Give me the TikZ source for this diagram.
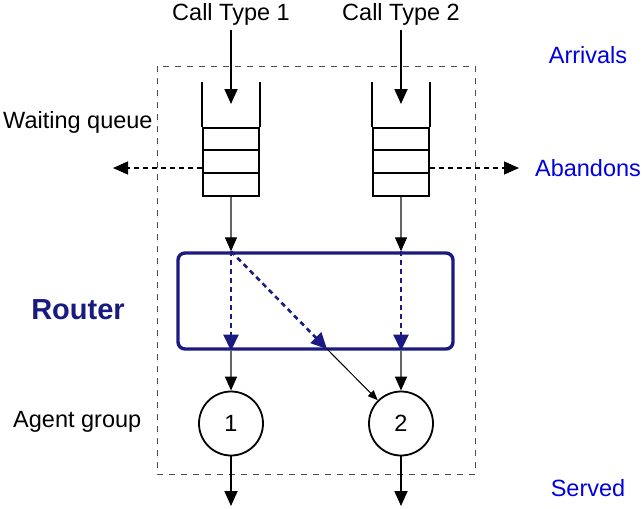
\documentclass[tikz,border=0pt]{standalone}
\usepackage{fontspec}
\setmainfont{Liberation Sans}
\usetikzlibrary{arrows.meta}
\definecolor{routernavy}{RGB}{26,26,128}
\definecolor{labelblue}{RGB}{0,0,225}
\begin{document}
\begin{tikzpicture}[x=1pt,y=-1pt,
  txt/.style={font=\fontsize{23.5}{27}\selectfont, inner sep=0pt},
  bluetxt/.style={txt, text=labelblue},
  bigtip/.style={-{Triangle[length=15pt,width=13pt]}},
  smalltip/.style={-{Triangle[length=10pt,width=8pt]}},
  midtip/.style={-{Triangle[length=14pt,width=12pt,color=black]}},
  navytip/.style={-{Triangle[length=16pt,width=15pt,color=routernavy]}},
  queuebox/.style={draw=black, line width=1.8pt, minimum width=56pt, minimum height=68pt, inner sep=0pt},
  agent/.style={circle, draw=black, line width=1.8pt, minimum size=64pt, inner sep=0pt, font=\fontsize{23.5}{27}\selectfont},
  thinline/.style={draw=black!60, line width=1.3pt},
  navydash/.style={draw=routernavy, line width=2.6pt, dash pattern=on 5pt off 4pt},
  abandon/.style={draw=black, line width=1.4pt, dash pattern=on 5pt off 4pt}
]
\useasboundingbox (0,0) rectangle (643,509);

% system boundary
\draw[black!70, line width=0.9pt, dash pattern=on 6pt off 6pt] (157,66) rectangle (475,474);

% queues
\node[queuebox] (q1) at (231,162) {};
\node[queuebox] (q2) at (401,162) {};
\foreach \q in {q1,q2}{
  \draw[line width=1.8pt] (\q.north west) -- ++(0,-45);
  \draw[line width=1.8pt] (\q.north east) -- ++(0,-45);
  \draw[line width=1.8pt] ([yshift=-23pt]\q.north west) -- ([yshift=-23pt]\q.north east);
  \draw[line width=1.8pt] ([yshift=-46pt]\q.north west) -- ([yshift=-46pt]\q.north east);
}

% router
\node[draw=routernavy, line width=3.4pt, rounded corners=7pt, minimum width=275pt, minimum height=96pt] (router) at (315.5,301) {};

% agent groups
\node[agent] (g1) at (231,423.5) {1};
\node[agent] (g2) at (401,423.5) {2};

% texts
\node[txt] (t1) at (231,14) {Call Type 1};
\node[txt] (t2) at (401,14) {Call Type 2};
\node[txt, anchor=west] (wq) at (3,122) {Waiting queue};
\node[txt, anchor=west] (ag) at (13,422) {Agent group};
\node[txt, font=\fontsize{29}{33}\selectfont\bfseries, text=routernavy] (rt) at (78,310) {Router};
\node[bluetxt] (arr) at (588,55) {Arrivals};
\node[bluetxt] (ab) at (588,168) {Abandons};
\node[bluetxt] (sv) at (588,488) {Served};

% free ends
\coordinate (a1) at (231,30);
\coordinate (a2) at (401,30);
\coordinate (l1) at (113,168);
\coordinate (l2) at (519,168);
\coordinate (s1) at (231,506);
\coordinate (s2) at (401,506);
\coordinate (r1) at (q1 |- router.north);
\coordinate (r2) at (q2 |- router.north);
\coordinate (b1) at (q1 |- router.south);
\coordinate (b2) at (q2 |- router.south);
\coordinate (bx) at (327,349);

% arrivals
\draw[bigtip, line width=1.8pt] (a1) -- (231,104);
\draw[bigtip, line width=1.8pt] (a2) -- (401,104);

% abandons
\draw[abandon, bigtip] (q1.west |- l1) -- (l1);
\draw[abandon, bigtip] (q2.east |- l2) -- (l2);

% queue to router
\draw[thinline, midtip] (q1.south) -- (r1);
\draw[thinline, midtip] (q2.south) -- (r2);

% routing decisions
\draw[navydash, navytip] (r1) -- (b1);
\draw[navydash, navytip] (r2) -- (b2);
\draw[navydash, navytip] (r1) -- (bx);

% router to agents
\draw[thinline, midtip] (b1) -- (g1.north);
\draw[thinline, midtip] (b2) -- (g2.north);
\draw[black, line width=1pt, smalltip] (bx) -- (g2.135);

% served
\draw[bigtip, line width=1.8pt] (g1.south) -- (s1);
\draw[bigtip, line width=1.8pt] (g2.south) -- (s2);
\end{tikzpicture}
\end{document}
